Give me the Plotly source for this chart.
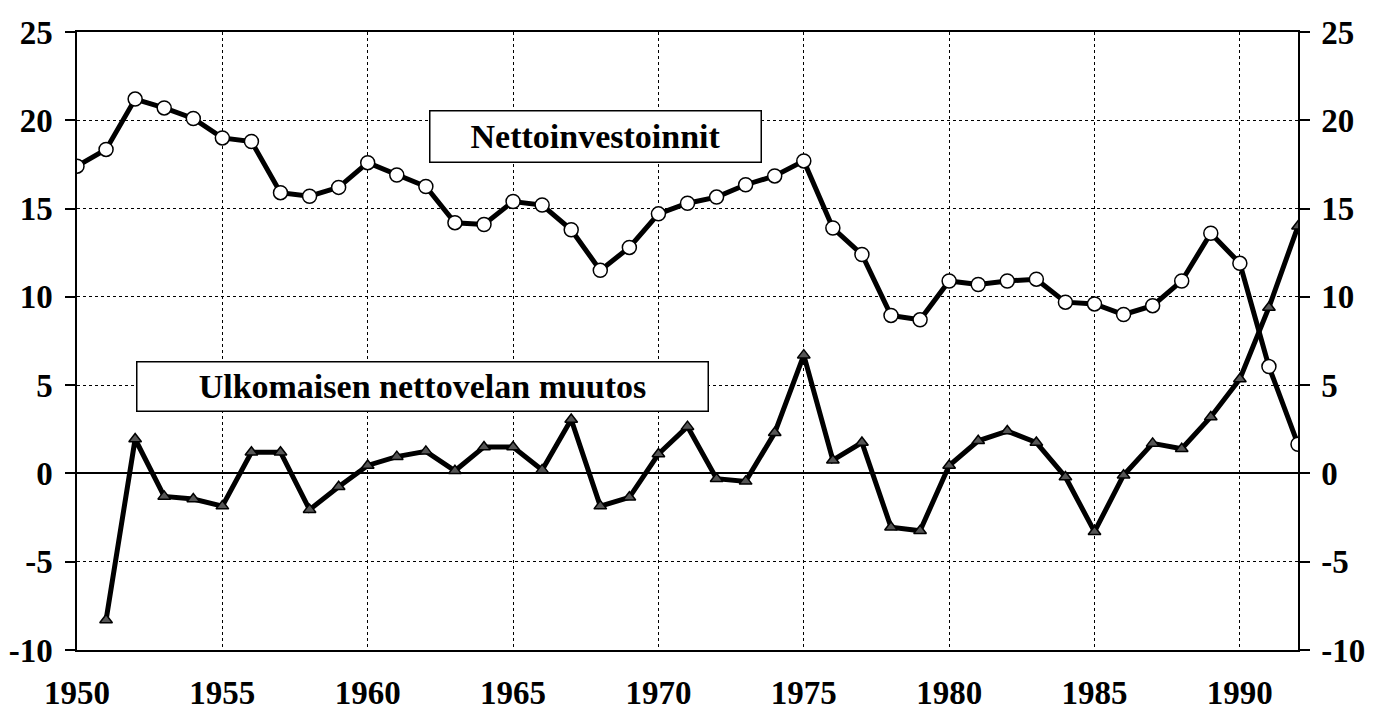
import plotly.graph_objects as go

years = list(range(1950, 1993))

# Nettoinvestoinnit, 1950-1992
netto_inv = [17.4, 18.35, 21.2, 20.7, 20.1, 19.0, 18.8, 15.9, 15.7, 16.2,
             17.6, 16.9, 16.25, 14.2, 14.1, 15.4, 15.2, 13.8, 11.5, 12.8,
             14.7, 15.3, 15.65, 16.35, 16.85, 17.7, 13.9, 12.4, 8.95, 8.7,
             10.9, 10.7, 10.9, 11.0, 9.7, 9.6, 9.0, 9.5, 10.9, 13.6,
             11.9, 6.05, 1.65]

# Ulkomaisen nettovelan muutos, 1951-1992
velka_years = list(range(1951, 1993))
velka_muutos = [-8.3, 1.95, -1.3, -1.45, -1.85, 1.2, 1.2, -2.05, -0.75,
                0.45, 0.95, 1.25, 0.15, 1.5, 1.5, 0.2, 3.05, -1.85, -1.35,
                1.1, 2.65, -0.3, -0.45, 2.3, 6.7, 0.75, 1.75, -3.05, -3.25,
                0.45, 1.85, 2.4, 1.75, -0.2, -3.3, -0.1, 1.7, 1.4, 3.2,
                5.35, 9.4, 14.0]

x_ticks = list(range(1950, 1991, 5))
y_ticks = list(range(-10, 26, 5))
y_labels = [str(v) for v in y_ticks]  # plain hyphen, as in the original

FONT = "Liberation Serif"

fig = go.Figure()

fig.add_trace(go.Scatter(
    x=velka_years, y=velka_muutos, mode="lines+markers", yaxis="y2",
    line=dict(color="black", width=5),
    marker=dict(symbol="triangle-up", size=11, color="#555555",
                line=dict(color="black", width=1.5)),
    showlegend=False,
))

fig.add_trace(go.Scatter(
    x=years, y=netto_inv, mode="lines+markers",
    line=dict(color="black", width=5),
    marker=dict(symbol="circle", size=14, color="white",
                line=dict(color="black", width=1.5)),
    showlegend=False,
))

axis_font = dict(family=FONT, size=33, color="black", weight="bold")

# the page adds an 8px body margin, so the figure is a little smaller
fig.update_layout(
    width=1371, height=703,
    margin=dict(l=69, r=81, t=24, b=61),
    paper_bgcolor="white", plot_bgcolor="white",
    xaxis=dict(
        range=[1950, 1992], tickvals=x_ticks, showgrid=True,
        gridcolor="black", griddash="dot", gridwidth=1,
        showline=True, linecolor="black", linewidth=1.5, mirror=True,
        ticks="", tickfont=axis_font, ticklabelstandoff=13, zeroline=False,
        automargin=False,
    ),
    yaxis=dict(
        range=[-10, 25], tickvals=y_ticks, ticktext=y_labels, showgrid=True,
        gridcolor="black", griddash="dot", gridwidth=1,
        showline=True, linecolor="black", linewidth=1.5, mirror=True,
        ticks="outside", ticklen=10, tickcolor="black", tickwidth=1.5,
        tickfont=axis_font, ticklabelstandoff=6, automargin=False,
        zeroline=True, zerolinecolor="black", zerolinewidth=1.5,
    ),
    yaxis2=dict(
        range=[-10, 25], tickvals=y_ticks, ticktext=y_labels,
        overlaying="y", side="right", automargin=False,
        showgrid=False, zeroline=False, showline=True, linecolor="black",
        linewidth=1.5, ticks="outside", ticklen=10, tickcolor="black",
        tickwidth=1.5, tickfont=axis_font, ticklabelstandoff=5,
    ),
    annotations=[
        dict(x=1967.85, y=19.1, xref="x", yref="y", showarrow=False,
             text="<b>Nettoinvestoinnit</b>",
             font=dict(family=FONT, size=34, color="black"),
             bgcolor="white", bordercolor="black", borderwidth=1.5,
             width=330, height=50, borderpad=0),
        dict(x=1961.9, y=4.95, xref="x", yref="y", showarrow=False,
             text="<b>Ulkomaisen nettovelan muutos</b>",
             font=dict(family=FONT, size=34, color="black"),
             bgcolor="white", bordercolor="black", borderwidth=1.5,
             width=570, height=48, borderpad=0),
    ],
)

fig.write_html("out.html")
